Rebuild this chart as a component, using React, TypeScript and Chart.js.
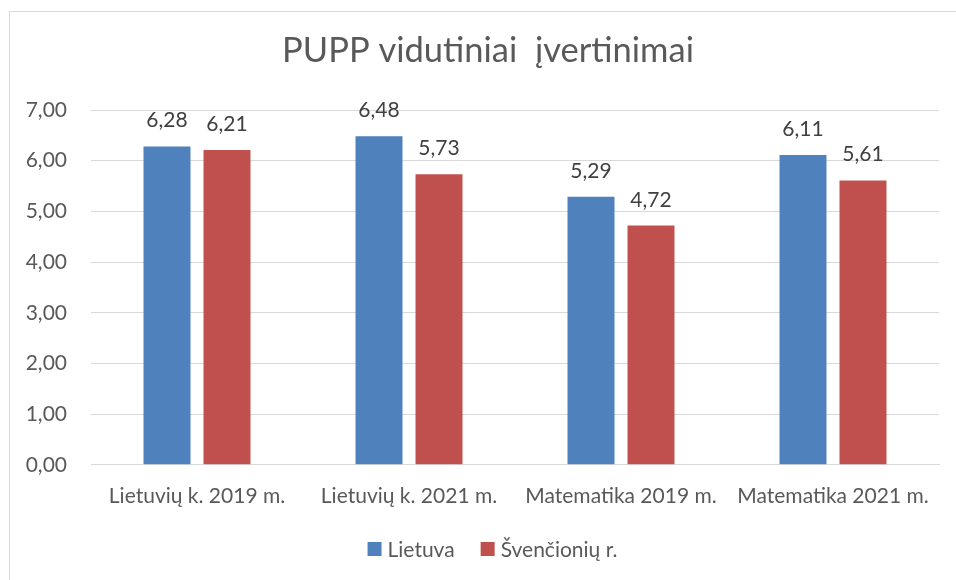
import React, { useEffect, useRef } from "react";
import { Chart, registerables } from "chart.js";

Chart.register(...registerables);

const categories = ["Lietuvių k. 2019 m.", "Lietuvių k. 2021 m.", "Matematika 2019 m.", "Matematika 2021 m."];
const lietuva = [6.28, 6.48, 5.29, 6.11];
const svencioniu = [6.21, 5.73, 4.72, 5.61];
const seriesNames = ["Lietuva", "Švenčionių r."];
const seriesColors = ["#4F81BD", "#C0504D"];
const yTicks = [0, 1, 2, 3, 4, 5, 6, 7];
const titleText = "PUPP vidutiniai  įvertinimai";

const FONT = "Lato, 'Open Sans', sans-serif";
const fmt = (v: number) => v.toFixed(2).replace(".", ",");

const dataLabels = {
  id: "dataLabels",
  afterDatasetsDraw(chart: any) {
    const ctx = chart.ctx;
    ctx.save();
    ctx.fillStyle = "#404040";
    ctx.font = `21px ${FONT}`;
    ctx.textAlign = "center";
    ctx.textBaseline = "alphabetic";
    chart.data.datasets.forEach((ds: any, i: number) => {
      const meta = chart.getDatasetMeta(i);
      meta.data.forEach((el: any, j: number) => {
        ctx.fillText(fmt(ds.data[j]), el.x, el.y - 19);
      });
    });
    ctx.restore();
  },
};

const titleAndLegend = {
  id: "titleAndLegend",
  afterDraw(chart: any) {
    const ctx = chart.ctx;
    ctx.save();
    // title
    ctx.font = `34.5px ${FONT}`;
    ctx.fillStyle = "#595959";
    ctx.textAlign = "center";
    ctx.textBaseline = "alphabetic";
    ctx.fillText(titleText, chart.width / 2 + 5, 50);
    // legend
    ctx.font = `21px ${FONT}`;
    const box = 14;
    const gapBoxText = 6;
    const gapItems = 26;
    const widths = chart.data.datasets.map((ds: any) => ctx.measureText(ds.label).width);
    let total = 0;
    widths.forEach((w: number, i: number) => {
      total += box + gapBoxText + w + (i < widths.length - 1 ? gapItems : 0);
    });
    const cx = chart.width / 2 + 9.5;
    const cy = chart.height - 31;
    let x = cx - total / 2;
    chart.data.datasets.forEach((ds: any, i: number) => {
      ctx.fillStyle = ds.backgroundColor;
      ctx.fillRect(x, cy - box / 2, box, box);
      x += box + gapBoxText;
      ctx.fillStyle = "#595959";
      ctx.textAlign = "left";
      ctx.textBaseline = "middle";
      ctx.fillText(ds.label, x, cy + 1);
      x += widths[i] + gapItems;
    });
    ctx.restore();
  },
};

export default function App() {
  const ref = useRef<HTMLCanvasElement>(null);
  useEffect(() => {
    if (!ref.current) return;
    const chart = new Chart(ref.current, {
      type: "bar",
      data: {
        labels: categories,
        datasets: [
          { label: seriesNames[0], data: lietuva, backgroundColor: seriesColors[0], borderWidth: 0 },
          { label: seriesNames[1], data: svencioniu, backgroundColor: seriesColors[1], borderWidth: 0 },
        ],
      },
      options: {
        animation: false,
        responsive: false,
        maintainAspectRatio: false,
        layout: { padding: { left: 0, right: 17, top: 98, bottom: 52 } },
        datasets: { bar: { categoryPercentage: 0.566, barPercentage: 0.783 } },
        plugins: {
          title: { display: false },
          legend: { display: false },
          tooltip: { enabled: false },
        },
        scales: {
          x: {
            grid: { display: false, drawTicks: false },
            border: { display: true, color: "#d9d9d9", width: 1 },
            ticks: { color: "#595959", font: { family: FONT, size: 21 }, padding: 19, maxRotation: 0, autoSkip: false },
          },
          y: {
            min: 0,
            max: 7,
            afterBuildTicks(scale: any) {
              scale.ticks = yTicks.map((v) => ({ value: v }));
            },
            afterFit(scale: any) {
              scale.width = 81;
            },
            grid: { color: "#d9d9d9", drawTicks: false },
            border: { display: false },
            ticks: {
              color: "#595959",
              font: { family: FONT, size: 21 },
              padding: 24,
              callback: (v: any) => fmt(Number(v)),
            },
          },
        },
      },
      plugins: [dataLabels, titleAndLegend],
    });
    return () => chart.destroy();
  }, []);
  return (
    <div
      style={{
        position: "fixed",
        left: 9,
        top: 11,
        width: 1000,
        height: 600,
        border: "1px solid #d9d9d9",
        background: "#fff",
      }}
    >
      <canvas ref={ref} width={946} height={568} style={{ display: "block" }} />
    </div>
  );
}
